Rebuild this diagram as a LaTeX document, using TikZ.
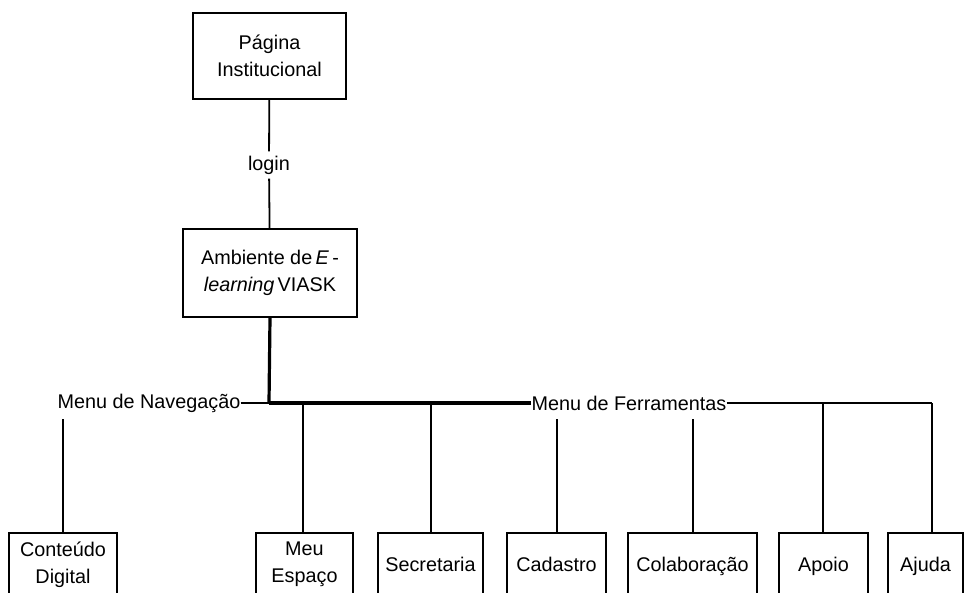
\documentclass[tikz,border=0pt]{standalone}
\usepackage{fontspec}
\setmainfont{Liberation Sans}
\begin{document}
\begin{tikzpicture}[x=1pt,y=-1pt,
  font=\fontsize{19.8}{27}\selectfont,
  box/.style={draw, line width=1.8pt, align=center, inner sep=0pt},
  bbox/.style={box, minimum height=67pt, execute at begin node=\strut, execute at end node=\strut},
  thinln/.style={line width=1.8pt},
  thickln/.style={line width=3.2pt}]
\useasboundingbox (0,0) rectangle (964,592);
\clip (0,0) rectangle (964,592);
% top boxes
\node[box, minimum width=153pt, minimum height=86pt] (pag) at (269.5,56) {Página\\Institucional};
\node[inner sep=0pt, minimum height=27pt] (login) at (269,165) {login};
\node[box, minimum width=174pt, minimum height=88pt] (amb) at (270,273) {Ambiente de\,\textit{E}\,-\\\textit{learning}\,VIASK};
\draw[thinln] (pag) -- (login);
\draw[thinln] (login) -- (amb);
% menu labels
\node[inner sep=0pt] (nav) at (149,403) {Menu de Navegação};
\node[inner sep=0pt] (fer) at (629,403) {Menu de Ferramentas};
\coordinate (jn) at (269,403);
\draw[thickln] (amb.south) -- (jn);
\draw[thinln] (nav.east) -- (jn);
\draw[thickln] (jn) -- (fer.west);
\coordinate (fr) at (932,403);
\draw[thinln] (fer.east) -- (fr);
% bottom boxes
\node[bbox, minimum width=108pt] (cont) at (63,566.5) {Conteúdo\\Digital};
\node[bbox, minimum width=97pt] (meu) at (304.5,566.5) {Meu\\Espaço};
\node[bbox, minimum width=105pt] (sec) at (430.5,566.5) {Secretaria};
\node[bbox, minimum width=99pt] (cad) at (556.5,566.5) {Cadastro};
\node[bbox, minimum width=129pt] (col) at (692.5,566.5) {Colaboração};
\node[bbox, minimum width=89pt] (apo) at (823.5,566.5) {Apoio};
\node[bbox, minimum width=75pt] (aju) at (925.5,566.5) {Ajuda};
% drops
\coordinate (cm) at (63,419);
\coordinate (mm) at (303,403);
\coordinate (sm) at (431,403);
\coordinate (cdm) at (557,419);
\coordinate (clm) at (693,419);
\coordinate (am) at (823,403);
\draw[thinln] (cm) -- (cm |- cont.north);
\draw[thinln] (mm) -- (mm |- meu.north);
\draw[thinln] (sm) -- (sm |- sec.north);
\draw[thinln] (cdm) -- (cdm |- cad.north);
\draw[thinln] (clm) -- (clm |- col.north);
\draw[thinln] (am) -- (am |- apo.north);
\draw[thinln] (fr) -- (fr |- aju.north);
\end{tikzpicture}
\end{document}
